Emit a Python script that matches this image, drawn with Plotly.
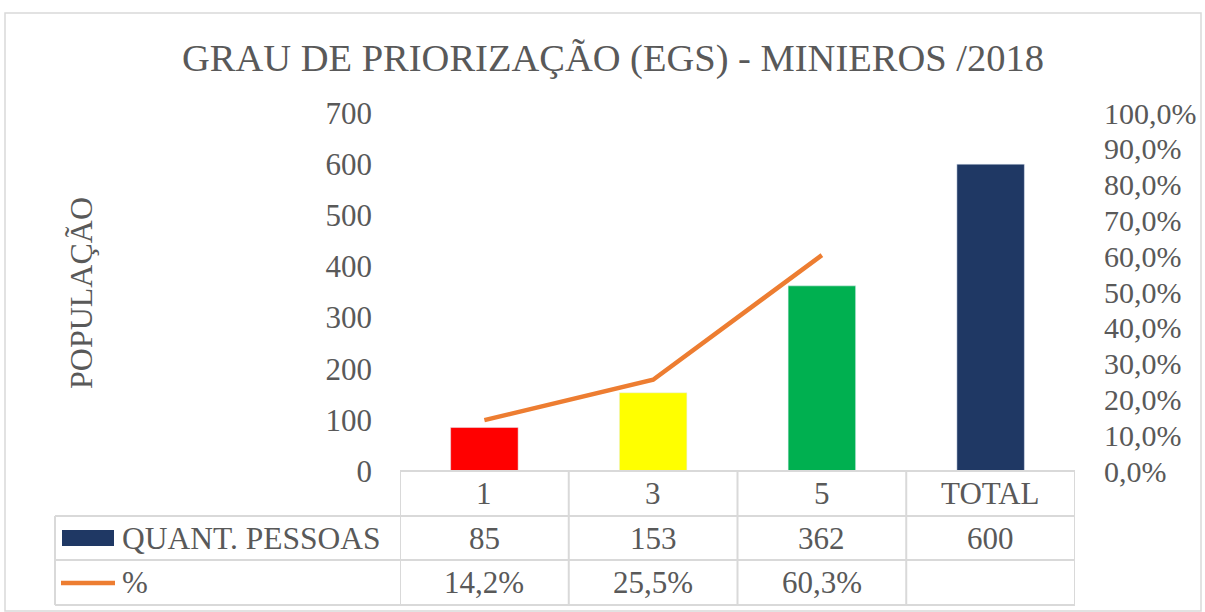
import plotly.graph_objects as go

categories = ["1", "3", "5", "TOTAL"]
quant_pessoas = [85, 153, 362, 600]
bar_colors = ["#FF0000", "#FFFF00", "#00B050", "#1F3864"]
pct_categories = ["1", "3", "5"]
pct_values = [0.142, 0.255, 0.603]
pct_labels = ["14,2%", "25,5%", "60,3%", ""]
qty_labels = ["85", "153", "362", "600"]
y_ticks = [0, 100, 200, 300, 400, 500, 600, 700]
y2_ticks = [0, 0.1, 0.2, 0.3, 0.4, 0.5, 0.6, 0.7, 0.8, 0.9, 1.0]

W, H = 1205, 612
def px(x): return x / W
def py(y): return 1 - y / H

GRAY = "#595959"
GRID = "#D9D9D9"
FONT = "Liberation Serif"

fig = go.Figure()
fig.add_trace(go.Bar(x=categories, y=quant_pessoas, marker_color=bar_colors,
                     width=0.4, name="QUANT. PESSOAS", showlegend=False))
fig.add_trace(go.Scatter(x=pct_categories, y=pct_values, yaxis="y2", mode="lines",
                         line=dict(color="#ED7D31", width=4.5), name="%", showlegend=False))

x0, x1 = 400, 1075
y_top, y_r1, y_r2, y_bot = 471, 516, 560, 605
left = 55

shapes = []
# outer chart border
shapes.append(dict(type="rect", xref="paper", yref="paper", x0=px(5), x1=px(1201), y0=py(611), y1=py(13),
                   line=dict(color=GRID, width=1.5)))
# table horizontal lines
shapes.append(dict(type="line", xref="paper", yref="paper", x0=px(x0), x1=px(x1), y0=py(y_top), y1=py(y_top),
                   line=dict(color=GRID, width=2)))
for yy in [y_r1, y_r2, y_bot]:
    shapes.append(dict(type="line", xref="paper", yref="paper", x0=px(left), x1=px(x1), y0=py(yy), y1=py(yy),
                       line=dict(color=GRID, width=2)))
# left vertical of table
shapes.append(dict(type="line", xref="paper", yref="paper", x0=px(left), x1=px(left), y0=py(y_r1), y1=py(y_bot),
                   line=dict(color=GRID, width=2)))
# column boundaries
for i in range(len(categories) + 1):
    shapes.append(dict(type="line", xref="x", yref="paper", x0=i - 0.5, x1=i - 0.5, y0=py(y_top), y1=py(y_bot),
                       line=dict(color=GRID, width=2)))
# legend keys
shapes.append(dict(type="rect", xref="paper", yref="paper", x0=px(62), x1=px(114), y0=py(546), y1=py(530),
                   fillcolor="#1F3864", line=dict(width=0)))
shapes.append(dict(type="line", xref="paper", yref="paper", x0=px(61), x1=px(115), y0=py(583), y1=py(583),
                   line=dict(color="#ED7D31", width=4.5)))

annotations = []
tfont = dict(family=FONT, size=31, color=GRAY)
for i, c in enumerate(categories):
    annotations.append(dict(x=i, xref="x", y=py((y_top + y_r1) / 2), yref="paper", text=c,
                            showarrow=False, font=tfont, yanchor="middle"))
    annotations.append(dict(x=i, xref="x", y=py((y_r1 + y_r2) / 2), yref="paper", text=qty_labels[i],
                            showarrow=False, font=tfont, yanchor="middle"))
    if pct_labels[i]:
        annotations.append(dict(x=i, xref="x", y=py((y_r2 + y_bot) / 2), yref="paper", text=pct_labels[i],
                                showarrow=False, font=tfont, yanchor="middle"))
annotations.append(dict(x=px(120), xref="paper", y=py((y_r1 + y_r2) / 2), yref="paper", text="QUANT. PESSOAS",
                        showarrow=False, font=dict(family=FONT, size=31.5, color=GRAY),
                        xanchor="left", yanchor="middle"))
annotations.append(dict(x=px(120), xref="paper", y=py((y_r2 + y_bot) / 2), yref="paper", text="%",
                        showarrow=False, font=tfont, xanchor="left", yanchor="middle"))
# title
annotations.append(dict(x=px(613), xref="paper", y=py(58), yref="paper",
                        text="GRAU DE PRIORIZAÇÃO (EGS) - MINIEROS /2018",
                        showarrow=False, font=dict(family=FONT, size=38.5, color=GRAY), yanchor="middle"))
# y-axis title
annotations.append(dict(x=px(61), xref="paper", y=py(293), yref="paper", text="POPULAÇÃO", textangle=-90,
                        showarrow=False, font=dict(family=FONT, size=32, color=GRAY)))

fig.update_layout(
    width=W, height=H,
    margin=dict(l=0, r=0, t=0, b=0, pad=0),
    paper_bgcolor="white", plot_bgcolor="white",
    separators=",.",
    bargap=0.6,
    shapes=shapes,
    annotations=annotations,
    xaxis=dict(domain=[px(x0), px(x1)], type="category", showticklabels=False, showline=False,
               showgrid=False, zeroline=False, range=[-0.5, 3.5], automargin=False),
    yaxis=dict(domain=[py(y_top), py(113)], range=[0, 700], tickvals=y_ticks, showgrid=False,
               zeroline=False, showline=False, ticks="", automargin=False,
               tickfont=dict(family=FONT, size=31, color=GRAY), ticklabelstandoff=27),
    yaxis2=dict(overlaying="y", side="right", range=[0, 1], tickvals=y2_ticks, tickformat=".1%",
                showgrid=False, zeroline=False, showline=False, ticks="", automargin=False,
                tickfont=dict(family=FONT, size=30, color=GRAY), ticklabelstandoff=28),
)

fig.write_html("out.html", config={"displayModeBar": False},
               post_script="document.body.style.margin='0';document.body.style.overflow='hidden';")
